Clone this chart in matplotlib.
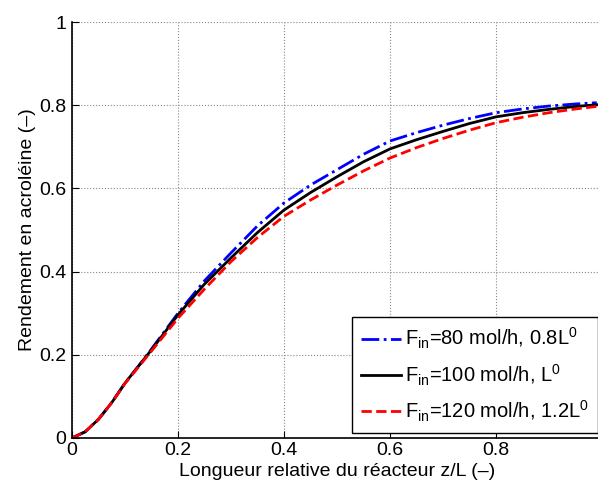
import numpy as np
import matplotlib
matplotlib.use('Agg')
import matplotlib.pyplot as plt

plt.rcParams['font.family'] = ['Liberation Sans', 'DejaVu Sans']
plt.rcParams['mathtext.fontset'] = 'custom'
plt.rcParams['mathtext.rm'] = 'Liberation Sans'
plt.rcParams['mathtext.it'] = 'Liberation Sans:italic'

# relative reactor length
z = [0, 0.025, 0.05, 0.075, 0.1, 0.125, 0.15, 0.2, 0.25, 0.3, 0.35, 0.4, 0.45,
     0.5, 0.55, 0.6, 0.65, 0.7, 0.75, 0.8, 0.85, 0.9, 0.95, 0.99]

# acrolein yield for each feed
y_80 = [0, 0.015, 0.045, 0.085, 0.132, 0.172, 0.214, 0.300, 0.378, 0.445, 0.510,
        0.565, 0.608, 0.645, 0.682, 0.714, 0.734, 0.752, 0.768, 0.782, 0.791,
        0.798, 0.803, 0.806]
y_100 = [0, 0.015, 0.045, 0.085, 0.132, 0.172, 0.212, 0.296, 0.370, 0.433, 0.494,
         0.548, 0.590, 0.628, 0.664, 0.695, 0.717, 0.737, 0.756, 0.772, 0.782,
         0.790, 0.797, 0.801]
y_120 = [0, 0.015, 0.045, 0.085, 0.131, 0.170, 0.209, 0.288, 0.358, 0.424, 0.482,
         0.533, 0.572, 0.608, 0.642, 0.673, 0.698, 0.720, 0.740, 0.758, 0.771,
         0.782, 0.791, 0.797]

labels = [r'F$_{\mathrm{in}}$=80 mol/h, 0.8L$^{0}$',
          r'F$_{\mathrm{in}}$=100 mol/h, L$^{0}$',
          r'F$_{\mathrm{in}}$=120 mol/h, 1.2L$^{0}$']

fig = plt.figure(figsize=(5.98, 4.86), dpi=100)
ax = fig.add_axes([0.1204, 0.0988, 0.8863, 0.8559])

ax.plot(z, y_80, color='blue', ls='-.', lw=2, label=labels[0])
ax.plot(z, y_100, color='black', ls='-', lw=2, label=labels[1])
ax.plot(z, y_120, color='red', ls='--', lw=2, label=labels[2])

ax.set_xlim(0, 1)
ax.set_ylim(0, 1)
ax.set_xticks([0, 0.2, 0.4, 0.6, 0.8, 1])
ax.set_xticklabels(['0', '0.2', '0.4', '0.6', '0.8', ''])
ax.set_yticks([0, 0.2, 0.4, 0.6, 0.8, 1])
ax.set_yticklabels(['0', '0.2', '0.4', '0.6', '0.8', '1'])
ax.tick_params(direction='in', length=5, labelsize=14)
ax.tick_params(axis='x', pad=3)
ax.tick_params(axis='y', pad=4)
ax.spines['top'].set_visible(False)
ax.spines['right'].set_visible(False)
ax.spines['left'].set_linewidth(1.2)
ax.spines['bottom'].set_linewidth(1.2)
ax.grid(True, ls=':', color='#888888', lw=0.8)

ax.set_xlabel('Longueur relative du réacteur z/L (–)', fontsize=14, labelpad=3)
ax.set_ylabel('Rendement en acroléine (–)', fontsize=14, labelpad=2)

leg = ax.legend(loc='lower right', bbox_to_anchor=(0.993, 0.012), fontsize=14.5,
                fancybox=False, framealpha=1, edgecolor='black',
                handlelength=2.0, handletextpad=0.2, borderpad=0.45,
                labelspacing=0.55, borderaxespad=0)
leg.get_frame().set_linewidth(1.0)

fig.savefig('out.png', dpi=100)
